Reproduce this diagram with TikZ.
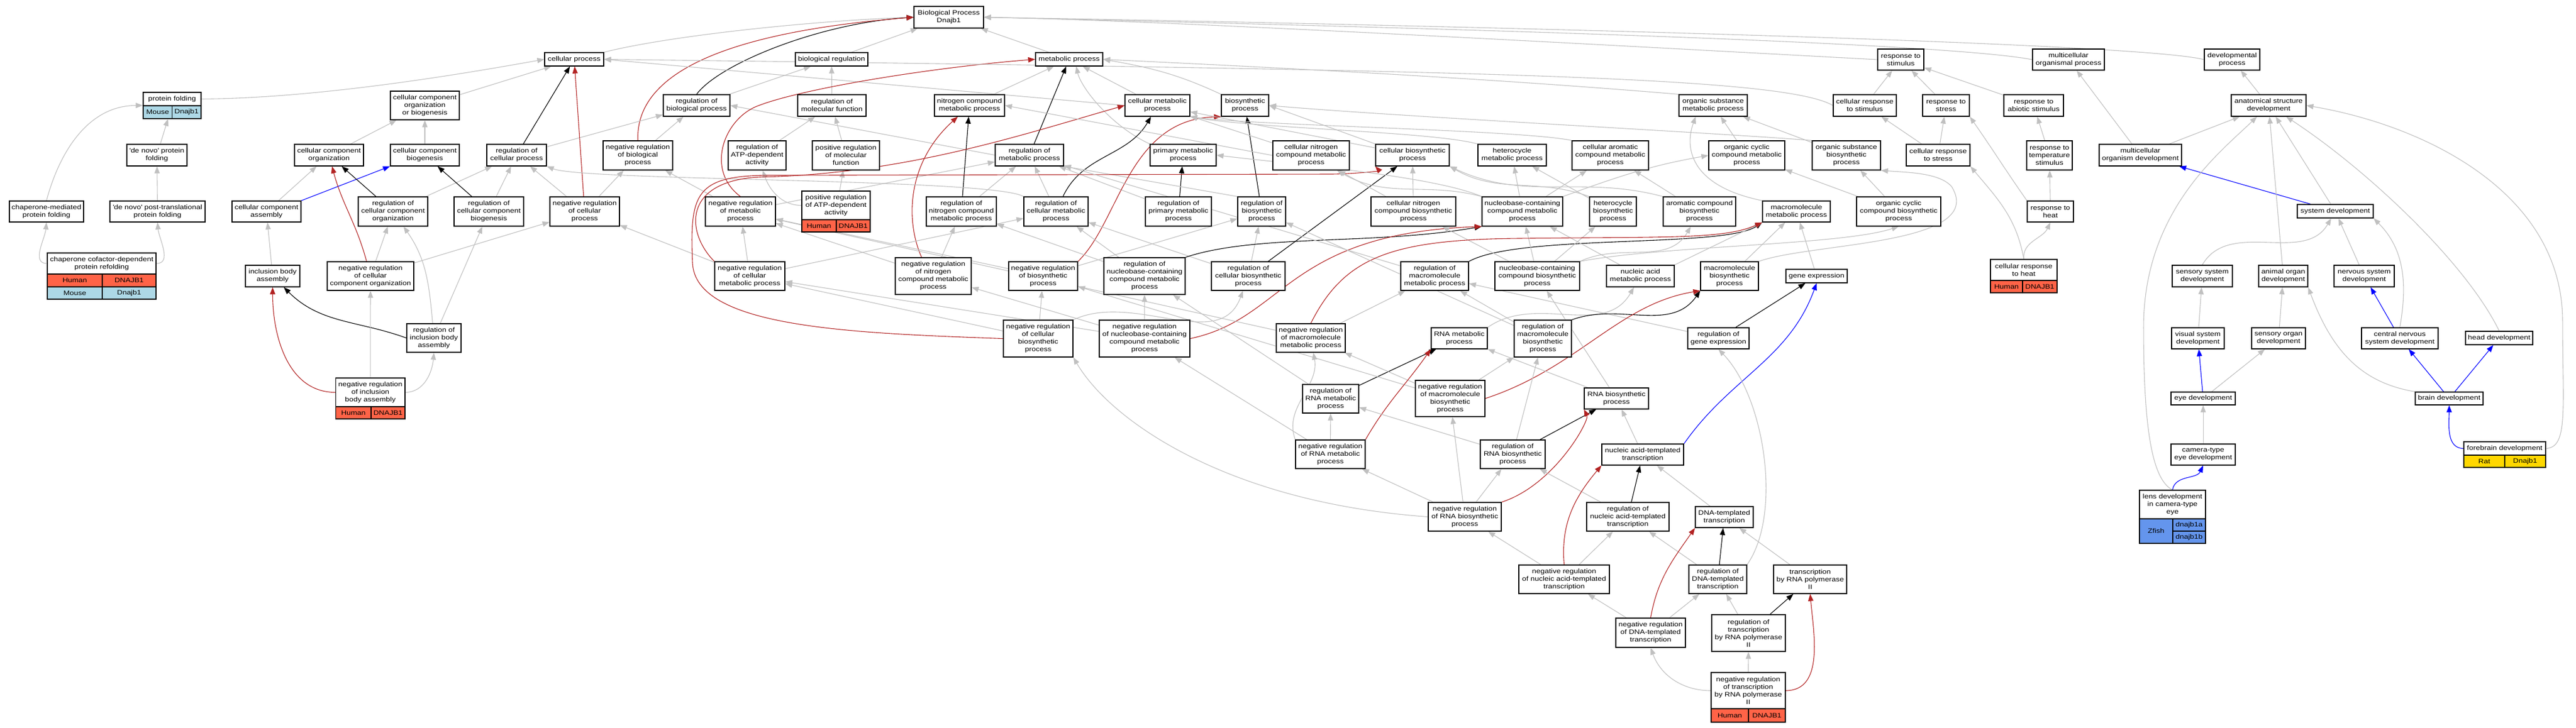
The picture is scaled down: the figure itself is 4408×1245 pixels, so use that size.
\documentclass[tikz,border=0pt]{standalone}
\usepackage{fontspec}
\setmainfont{Liberation Sans}[FakeStretch=1.18]
\usetikzlibrary{arrows.meta,backgrounds}
\definecolor{isagray}{HTML}{C0C0C0}
\definecolor{negred}{HTML}{B22222}
\definecolor{partblue}{HTML}{0000FF}
\definecolor{tomato}{HTML}{FF6347}
\definecolor{lightblue}{HTML}{ADD8E6}
\definecolor{gold}{HTML}{FFD700}
\definecolor{cornflower}{HTML}{6495ED}
\tikzset{
  term/.style={draw=black, fill=white, line width=1.3pt, align=center, inner sep=0pt, font=\fontsize{11}{13}\selectfont},
  rec/.style={draw=black, line width=1.3pt, inner sep=0pt},
  boxwh/.style 2 args={minimum width=#1, minimum height=#2},
  human/.style={term, fill=tomato},
  mouse/.style={term, fill=lightblue},
  rat/.style={term, fill=gold},
  zfish/.style={term, fill=cornflower},
  isa/.style={draw=isagray, line width=1.1pt, -{Triangle[length=12pt,width=9pt]}},
  reg/.style={isa, draw=black},
  negreg/.style={isa, draw=negred},
  partof/.style={isa, draw=partblue}
}
\begin{document}
\begin{tikzpicture}[x=1pt, y=-1pt]
  \useasboundingbox (0,0) rectangle (4408,1245);
  % Nodes, row 1 and 2
  \node[term, boxwh={119}{37}] (root) at (1623.5,29.5) {Biological Process\\Dnajb1};
  \node[term, boxwh={101}{23}] (cp) at (982.5,101.5) {cellular process};
  \node[term, boxwh={124}{23}] (br) at (1423,101.5) {biological regulation};
  \node[term, boxwh={115}{23}] (mp) at (1829.5,101.5) {metabolic process};
  \node[term, boxwh={79}{36}] (rs) at (3252.5,102) {response to\\stimulus};
  \node[term, boxwh={123}{36}] (mop) at (3539.5,102) {multicellular\\organismal process};
  \node[term, boxwh={95}{36}] (dp) at (3819.5,102) {developmental\\process};
  % row 3
  \node[term, boxwh={99}{23}] (pf-t) at (294.5,169.5) {protein folding};
  \node[mouse, boxwh={49.5}{22}] (pf-a) at (269.75,192) {Mouse};
  \node[mouse, boxwh={49.5}{22}] (pf-b) at (319.25,192) {Dnajb1};
  \node[rec, boxwh={99}{45}] (pf) at (294.5,180.5) {};
  \node[term, boxwh={118}{49}] (ccob) at (727,180.5) {cellular component\\organization\\or biogenesis};
  \node[term, boxwh={114}{37}] (rbp) at (1192,180.5) {regulation of\\biological process};
  \node[term, boxwh={117}{37}] (rmf) at (1423.5,180.5) {regulation of\\molecular function};
  \node[term, boxwh={120}{37}] (ncmp) at (1659,180.5) {nitrogen compound\\metabolic process};
  \node[term, boxwh={111}{37}] (cmp) at (1980.5,180.5) {cellular metabolic\\process};
  \node[term, boxwh={81}{37}] (bp) at (2130.5,180.5) {biosynthetic\\process};
  \node[term, boxwh={117}{37}] (osmp) at (2931.5,180.5) {organic substance\\metabolic process};
  \node[term, boxwh={108}{37}] (crs) at (3191,180.5) {cellular response\\to stimulus};
  \node[term, boxwh={80}{37}] (rstr) at (3330,180.5) {response to\\stress};
  \node[term, boxwh={102}{37}] (ras) at (3480,180.5) {response to\\abiotic stimulus};
  \node[term, boxwh={128}{37}] (asd) at (3882,180.5) {anatomical structure\\development};
  % row 4
  \node[term, boxwh={103}{37}] (dnpf) at (268.5,265.5) {\textquotesingle de novo\textquotesingle{} protein\\folding};
  \node[term, boxwh={118}{37}] (cco) at (563,265.5) {cellular component\\organization};
  \node[term, boxwh={118}{37}] (ccb) at (727,265.5) {cellular component\\biogenesis};
  \node[term, boxwh={102}{37}] (rcp) at (884,265.5) {regulation of\\cellular process};
  \node[term, boxwh={119}{50}] (nrbp) at (1091.5,266) {negative regulation\\of biological\\process};
  \node[term, boxwh={99}{50}] (ratp) at (1295.5,266) {regulation of\\ATP-dependent\\activity};
  \node[term, boxwh={115}{50}] (prmf) at (1447.5,266) {positive regulation\\of molecular\\function};
  \node[term, boxwh={117}{37}] (rmp) at (1761.5,265.5) {regulation of\\metabolic process};
  \node[term, boxwh={113}{37}] (pmp) at (2024.5,265.5) {primary metabolic\\process};
  \node[term, boxwh={131}{50}] (cncmp) at (2243.5,266) {cellular nitrogen\\compound metabolic\\process};
  \node[term, boxwh={126}{37}] (cbsp) at (2417,265.5) {cellular biosynthetic\\process};
  \node[term, boxwh={117}{37}] (hmp) at (2587.5,265.5) {heterocycle\\metabolic process};
  \node[term, boxwh={131}{50}] (cacmp) at (2755.5,266) {cellular aromatic\\compound metabolic\\process};
  \node[term, boxwh={130}{50}] (occmp) at (2989,266) {organic cyclic\\compound metabolic\\process};
  \node[term, boxwh={117}{50}] (osbp) at (3159.5,266) {organic substance\\biosynthetic\\process};
  \node[term, boxwh={109}{37}] (crstr) at (3316.5,265.5) {cellular response\\to stress};
  \node[term, boxwh={78}{50}] (rts) at (3507,266) {response to\\temperature\\stimulus};
  \node[term, boxwh={141}{37}] (mod) at (3662.5,265.5) {multicellular\\organism development};
  % row 5
  \node[term, boxwh={127}{36}] (cmpf) at (79.5,362) {chaperone-mediated\\protein folding};
  \node[term, boxwh={163}{36}] (dnpt) at (269.5,362) {\textquotesingle de novo\textquotesingle{} post-translational\\protein folding};
  \node[term, boxwh={118}{36}] (cca) at (456,362) {cellular component\\assembly};
  \node[term, boxwh={119}{50}] (rcco) at (672.5,362) {regulation of\\cellular component\\organization};
  \node[term, boxwh={119}{50}] (rccb) at (836.5,362) {regulation of\\cellular component\\biogenesis};
  \node[term, boxwh={119}{50}] (nrcp) at (1000.5,362) {negative regulation\\of cellular\\process};
  \node[term, boxwh={120}{50}] (nrmp) at (1267,362) {negative regulation\\of metabolic\\process};
  \node[term, boxwh={117}{49}] (pratp-t) at (1430.5,351.5) {positive regulation\\of ATP-dependent\\activity};
  \node[human, boxwh={59}{21}] (pratp-a) at (1401.5,386.5) {Human};
  \node[human, boxwh={58}{21}] (pratp-b) at (1460,386.5) {DNAJB1};
  \node[rec, boxwh={117}{70}] (pratp) at (1430.5,362) {};
  \node[term, boxwh={120}{50}] (rncmp) at (1645,362) {regulation of\\nitrogen compound\\metabolic process};
  \node[term, boxwh={110}{50}] (rcmp) at (1807,362) {regulation of\\cellular metabolic\\process};
  \node[term, boxwh={113}{50}] (rpmp) at (2016.5,362) {regulation of\\primary metabolic\\process};
  \node[term, boxwh={82}{50}] (rbsp) at (2159,362) {regulation of\\biosynthetic\\process};
  \node[term, boxwh={145}{50}] (cncbp) at (2418.5,362) {cellular nitrogen\\compound biosynthetic\\process};
  \node[term, boxwh={138}{50}] (nccmp) at (2605,362) {nucleobase-containing\\compound metabolic\\process};
  \node[term, boxwh={80}{50}] (hbp) at (2760,362) {heterocycle\\biosynthetic\\process};
  \node[term, boxwh={124}{50}] (acbp) at (2908,362) {aromatic compound\\biosynthetic\\process};
  \node[term, boxwh={116}{36}] (mmp) at (3074,362) {macromolecule\\metabolic process};
  \node[term, boxwh={144}{50}] (occbp) at (3249,362) {organic cyclic\\compound biosynthetic\\process};
  \node[term, boxwh={79}{36}] (rh) at (3508.5,362) {response to\\heat};
  \node[term, boxwh={130}{23}] (sd) at (3996,361.5) {system development};
  % row 6
  \node[term, boxwh={186}{36}] (ccdpr-t) at (174,451) {chaperone cofactor-dependent\\protein refolding};
  \node[human, boxwh={94}{22}] (ccdpr-a) at (128,480) {Human};
  \node[human, boxwh={92}{22}] (ccdpr-b) at (221,480) {DNAJB1};
  \node[mouse, boxwh={94}{21}] (ccdpr-c) at (128,501.5) {Mouse};
  \node[mouse, boxwh={92}{21}] (ccdpr-d) at (221,501.5) {Dnajb1};
  \node[rec, boxwh={186}{79}] (ccdpr) at (174,472.5) {};
  \node[term, boxwh={93}{37}] (iba) at (466.5,472.5) {inclusion body\\assembly};
  \node[term, boxwh={148}{49}] (nrcco) at (634,472.5) {negative regulation\\of cellular\\component organization};
  \node[term, boxwh={120}{49}] (nrcmp) at (1283,472.5) {negative regulation\\of cellular\\metabolic process};
  \node[term, boxwh={130}{63}] (nrncmp) at (1597,472.5) {negative regulation\\of nitrogen\\compound metabolic\\process};
  \node[term, boxwh={118}{49}] (nrbsp) at (1785,472.5) {negative regulation\\of biosynthetic\\process};
  \node[term, boxwh={139}{63}] (rnccmp) at (1958.5,472.5) {regulation of\\nucleobase-containing\\compound metabolic\\process};
  \node[term, boxwh={126}{49}] (rcbsp) at (2136,472.5) {regulation of\\cellular biosynthetic\\process};
  \node[term, boxwh={116}{49}] (rmmp) at (2455,472.5) {regulation of\\macromolecule\\metabolic process};
  \node[term, boxwh={145}{49}] (nccbp) at (2630.5,472.5) {nucleobase-containing\\compound biosynthetic\\process};
  \node[term, boxwh={116}{37}] (namp) at (2807,472.5) {nucleic acid\\metabolic process};
  \node[term, boxwh={99}{49}] (mbp) at (2959.5,472.5) {macromolecule\\biosynthetic\\process};
  \node[term, boxwh={105}{23}] (ge) at (3108.5,472.5) {gene expression};
  \node[term, boxwh={114}{36}] (crh-t) at (3463,462) {cellular response\\to heat};
  \node[human, boxwh={55}{21}] (crh-a) at (3433.5,490.5) {Human};
  \node[human, boxwh={59}{21}] (crh-b) at (3490.5,490.5) {DNAJB1};
  \node[rec, boxwh={114}{57}] (crh) at (3463,472.5) {};
  \node[term, boxwh={103}{37}] (ssd) at (3768.5,472.5) {sensory system\\development};
  \node[term, boxwh={84}{37}] (aod) at (3907,472.5) {animal organ\\development};
  \node[term, boxwh={103}{37}] (nsd) at (4045.5,472.5) {nervous system\\development};
  % row 7
  \node[term, boxwh={93}{49}] (riba) at (742.5,578.5) {regulation of\\inclusion body\\assembly};
  \node[term, boxwh={119}{63}] (nrcbsp) at (1776.5,579.5) {negative regulation\\of cellular\\biosynthetic\\process};
  \node[term, boxwh={155}{63}] (nrnccmp) at (1958.5,579.5) {negative regulation\\of nucleobase-containing\\compound metabolic\\process};
  \node[term, boxwh={118}{49}] (nrmmp) at (2243,578.5) {negative regulation\\of macromolecule\\metabolic process};
  \node[term, boxwh={96}{36}] (rnamp) at (2497,579) {RNA metabolic\\process};
  \node[term, boxwh={98}{63}] (rmbp) at (2640,579.5) {regulation of\\macromolecule\\biosynthetic\\process};
  \node[term, boxwh={105}{36}] (rge) at (2940.5,579) {regulation of\\gene expression};
  \node[term, boxwh={90}{36}] (vsd) at (3761,579) {visual system\\development};
  \node[term, boxwh={92}{36}] (sod) at (3899,579) {sensory organ\\development};
  \node[term, boxwh={131}{36}] (cnsd) at (4106.5,579) {central nervous\\system development};
  \node[term, boxwh={115}{23}] (hd) at (4276.5,578.5) {head development};
  % row 8
  \node[term, boxwh={118.5}{49}] (nriba-t) at (633.75,671.5) {negative regulation\\of inclusion\\body assembly};
  \node[human, boxwh={60.5}{21}] (nriba-a) at (604.75,706.5) {Human};
  \node[human, boxwh={58}{21}] (nriba-b) at (664,706.5) {DNAJB1};
  \node[rec, boxwh={118.5}{70}] (nriba) at (633.75,682) {};
  \node[term, boxwh={96}{49}] (rrmp) at (2277,682.5) {regulation of\\RNA metabolic\\process};
  \node[term, boxwh={119}{62}] (nrmbp) at (2481.5,682) {negative regulation\\of macromolecule\\biosynthetic\\process};
  \node[term, boxwh={110}{36}] (rnabp) at (2766,682) {RNA biosynthetic\\process};
  \node[term, boxwh={110}{22}] (ed) at (3770,682) {eye development};
  \node[term, boxwh={116}{22}] (bd) at (4191,682) {brain development};
  % row 9
  \node[term, boxwh={119}{49}] (nrrmp) at (2276.5,777.5) {negative regulation\\of RNA metabolic\\process};
  \node[term, boxwh={111}{49}] (rrbp) at (2588.5,777.5) {regulation of\\RNA biosynthetic\\process};
  \node[term, boxwh={140}{36}] (natt) at (2811,778) {nucleic acid-templated\\transcription};
  \node[term, boxwh={110}{36}] (cted) at (3770,778) {camera-type\\eye development};
  \node[term, boxwh={140}{23}] (fd-t) at (4286,767.5) {forebrain development};
  \node[rat, boxwh={70}{21}] (fd-a) at (4251,789.5) {Rat};
  \node[rat, boxwh={70}{21}] (fd-b) at (4321,789.5) {Dnajb1};
  \node[rec, boxwh={140}{44}] (fd) at (4286,778) {};
  % row 10
  \node[term, boxwh={125}{49}] (nrrbp) at (2506.5,884.5) {negative regulation\\of RNA biosynthetic\\process};
  \node[term, boxwh={141}{49}] (rnatt) at (2785.5,884.5) {regulation of\\nucleic acid-templated\\transcription};
  \node[term, boxwh={99}{36}] (dtt) at (2950.5,885) {DNA-templated\\transcription};
  \node[term, boxwh={113}{49}] (ldcte-t) at (3717.5,863.5) {lens development\\in camera-type\\eye};
  \node[zfish, boxwh={57}{42}] (ldcte-a) at (3689.5,909) {Zfish};
  \node[zfish, boxwh={56}{21}] (ldcte-b) at (3746,898.5) {dnajb1a};
  \node[zfish, boxwh={56}{21}] (ldcte-c) at (3746,919.5) {dnajb1b};
  \node[rec, boxwh={113}{91}] (ldcte) at (3717.5,884.5) {};
  % row 11 to 13
  \node[term, boxwh={155}{49}] (nrnatt) at (2676.5,991.5) {negative regulation\\of nucleic acid-templated\\transcription};
  \node[term, boxwh={99}{49}] (rdtt) at (2939.5,991.5) {regulation of\\DNA-templated\\transcription};
  \node[term, boxwh={125}{49}] (trp) at (3097.5,991.5) {transcription\\by RNA polymerase\\II};
  \node[term, boxwh={119}{50}] (nrdtt) at (2824.5,1083) {negative regulation\\of DNA-templated\\transcription};
  \node[term, boxwh={126}{63}] (rtrp) at (2992,1083.5) {regulation of\\transcription\\by RNA polymerase\\II};
  \node[term, boxwh={127}{62}] (nrtrp-t) at (2991.5,1182) {negative regulation\\of transcription\\by RNA polymerase\\II};
  \node[human, boxwh={64}{23}] (nrtrp-a) at (2960,1224.5) {Human};
  \node[human, boxwh={63}{23}] (nrtrp-b) at (3023.5,1224.5) {DNAJB1};
  \node[rec, boxwh={127}{85}] (nrtrp) at (2991.5,1193.5) {};

  \begin{scope}[on background layer]
  \fill[white] (0,0) rectangle (4408,1245);
  % Edges into the root
  \draw[isa] (cp.north east) .. controls (1150,60) and (1400,35) .. (root.west);
  \draw[reg] (rbp.north) .. controls (1230,110) and (1400,40) .. (root.west);
  \draw[negreg] (nrbp.north) .. controls (1088,150) and (1180,60) .. (root.west);
  \draw[isa] (br) -- (root);
  \draw[isa] (mp) -- (root);
  \draw[isa] (rs.west) .. controls (2800,80) and (2000,35) .. (root.east);
  \draw[isa] (mop.west) .. controls (3300,68) and (2200,42) .. (root.east);
  \draw[isa] (dp.west) .. controls (3650,70) and (2300,40) .. (root.east);
  % Protein folding
  \draw[isa] (dnpf) -- (pf);
  \draw[isa] (cmpf.north) to[out=75,in=180] (pf.west);
  \draw[isa] (dnpt) -- (dnpf);
  \draw[isa] (ccdpr-t.west) to[out=180,in=-95] (cmpf.south);
  \draw[isa] (ccdpr-t.east) to[out=0,in=-85] (dnpt.south);
  \draw[isa] (pf-t.east) .. controls (550,168) and (800,125) .. (cp.west);
  % Cellular component
  \draw[isa] (ccob) -- (cp);
  \draw[isa] (cco) -- (ccob);
  \draw[isa] (ccb) -- (ccob);
  \draw[isa] (cca) -- (cco);
  \draw[partof] (cca.north east) -- (ccb.south west);
  \draw[isa] (iba) -- (cca);
  \draw[reg] (rcco) -- (cco);
  \draw[isa] (rcco) -- (rcp);
  \draw[reg] (rccb) -- (ccb);
  \draw[isa] (rccb) -- (rcp);
  \draw[reg] (rcp) -- (cp);
  \draw[isa] (rcp) -- (rbp);
  \draw[negreg] (nrcp) -- (cp);
  \draw[isa] (nrcp) -- (rcp);
  \draw[isa] (nrcp) -- (nrbp);
  \draw[isa] (nrbp) -- (rbp);
  \draw[isa] (rbp) -- (br);
  \draw[negreg] (nrcco) to[out=105,in=-75] (cco);
  \draw[isa] (nrcco) -- (rcco);
  \draw[isa] (nrcco) -- (nrcp);
  \draw[reg] (riba.west) to[out=160,in=-45] (iba);
  \draw[isa] (riba) to[out=95,in=-55] (rcco);
  \draw[isa] (riba) -- (rccb);
  \draw[negreg] (nriba-t.west) to[out=180,in=-90] (iba.south);
  \draw[isa] (nriba-t.east) to[out=0,in=-95] (riba.south);
  \draw[isa] (nriba) -- (nrcco);
  % Molecular function
  \draw[isa] (rmf) -- (br);
  \draw[isa] (ratp) -- (rmf);
  \draw[isa] (prmf) -- (rmf);
  \draw[isa] (pratp-t.west) to[out=180,in=-70] (ratp);
  \draw[isa] (pratp) -- (prmf);
  % Metabolic process
  \draw[isa] (ncmp) -- (mp);
  \draw[isa] (cmp) -- (mp);
  \draw[isa] (cmp.west) -- (cp.east);
  \draw[isa] (bp.north west) to[out=155,in=-10] (mp.east);
  \draw[isa] (pmp.north west) .. controls (1900,215) and (1850,150) .. ([xshift=12pt]mp.south);
  \draw[isa] (osmp.north west) .. controls (2500,130) and (2100,112) .. (mp.east);
  \draw[reg] (rmp) -- (mp);
  \draw[isa] (rmp.west) -- (rbp.east);
  \draw[negreg] (nrmp.north) .. controls (1205,290) and (1240,200) .. (1300,180) .. controls (1380,150) and (1600,115) .. (mp.west);
  \draw[isa] (nrmp) -- (rmp);
  \draw[isa] (nrmp) -- (nrbp);
  \draw[reg] (rncmp) -- (ncmp);
  \draw[isa] (rncmp) -- (rmp);
  \draw[negreg] ([xshift=-20pt]nrncmp.north) .. controls (1550,380) and (1550,280) .. ([xshift=-20pt]ncmp.south);
  \draw[isa] (nrncmp) -- (rncmp);
  \draw[isa] (nrncmp) -- (nrmp);
  \draw[reg] (rcmp) to[out=65,in=-120] (cmp);
  \draw[isa] (rcmp) -- (rmp);
  \draw[isa] (rcmp.north west) .. controls (1700,305) and (1000,310) .. (rcp.south east);
  \draw[reg] (rpmp) -- (pmp);
  \draw[isa] (rpmp) -- (rmp);
  \draw[reg] (rbsp) -- (bp);
  \draw[isa] (rbsp.north west) -- (rmp.south east);
  \draw[negreg] (nrcmp.north west) .. controls (1175,400) and (1165,310) .. (1300,303) .. controls (1550,298) and (1750,230) .. (cmp.west);
  \draw[isa] (nrcmp) -- (nrmp);
  \draw[isa] (nrcmp) -- (rcmp);
  \draw[isa] (nrcmp) -- (nrcp);
  \draw[negreg] (nrbsp.north east) .. controls (1915,380) and (1930,205) .. (bp.south west);
  \draw[isa] (nrbsp) -- (rbsp);
  \draw[isa] (nrbsp) -- (nrmp);
  \draw[reg] (rcbsp) -- (cbsp);
  \draw[isa] (rcbsp) -- (rbsp);
  \draw[isa] (rcbsp) -- (rcmp);
  \draw[negreg] (nrcbsp.west) .. controls (1450,570) and (1190,560) .. (1185,450) .. controls (1180,330) and (1190,300) .. (1320,300) -- (2280,298) .. controls (2330,297) and (2360,292) .. (cbsp.south west);
  \draw[isa] (nrcbsp) -- (nrbsp);
  \draw[isa] (nrcbsp.north east) to[out=25,in=-110] (rcbsp);
  \draw[isa] (nrcbsp) -- (nrcmp);
  \draw[isa] (rnccmp) -- (rncmp);
  \draw[isa] (rnccmp) -- (rcmp);
  \draw[reg] (rnccmp.north east) .. controls (2150,400) and (2350,420) .. (nccmp.south west);
  \draw[negreg] (nrnccmp.east) .. controls (2200,545) and (2200,400) .. (nccmp.south west);
  \draw[isa] (nrnccmp) -- (rnccmp);
  \draw[isa] (nrnccmp) -- (nrncmp);
  \draw[isa] (nrnccmp) -- (nrcmp);
  % Compound metabolism
  \draw[isa] (cncmp.west) -- (ncmp.east);
  \draw[isa] (cncmp) -- (cmp);
  \draw[isa] (cbsp.north west) -- (bp.east);
  \draw[isa] (cbsp) -- (cmp);
  \draw[isa] (hmp.north west) .. controls (2450,225) and (2150,220) .. (cmp.south east);
  \draw[isa] (cacmp.north west) .. controls (2600,222) and (2150,215) .. (cmp.south east);
  \draw[isa] (occmp) -- (osmp);
  \draw[isa] (osbp) -- (osmp);
  \draw[isa] (osbp.north west) .. controls (2900,225) and (2400,200) .. (bp.east);
  \draw[isa] (mmp.north west) .. controls (2900,320) and (2880,260) .. ([xshift=-30pt]osmp.south);
  \draw[isa] (cncbp) -- (cncmp);
  \draw[isa] (cncbp) -- (cbsp);
  \draw[isa] (nccmp) -- (hmp);
  \draw[isa] (nccmp) -- (cacmp);
  \draw[isa] (nccmp.north west) to[out=165,in=-30] (cncmp);
  \draw[isa] (nccmp.north east) to[out=20,in=190] (occmp.west);
  \draw[isa] (nccmp.north west) .. controls (2450,300) and (2200,280) .. (pmp.east);
  \draw[isa] (hbp) -- (hmp);
  \draw[isa] (hbp.north west) to[out=160,in=-30] (cbsp.south east);
  \draw[isa] (acbp) -- (cacmp);
  \draw[isa] (acbp.north west) to[out=165,in=-25] (cbsp.south east);
  \draw[isa] (occbp) -- (occmp);
  \draw[isa] (occbp) -- (osbp);
  \draw[isa] (mbp) -- (mmp);
  \draw[isa] (mbp.north east) .. controls (3100,415) and (3400,420) .. (3340,320) .. controls (3320,295) and (3260,295) .. (osbp.south east);
  \draw[isa] (ge) -- (mmp);
  \draw[reg] (rge) -- (ge);
  \draw[isa] (rge) -- (rmmp);
  \draw[partof] (natt.north east) to[out=55,in=-110] (ge.south);
  \draw[reg] (rmmp.north east) .. controls (2600,400) and (2950,425) .. (mmp.south west);
  \draw[isa] (rmmp) -- (rmp);
  \draw[isa] (nccbp) -- (nccmp);
  \draw[isa] (nccbp) -- (hbp);
  \draw[isa] (nccbp.north east) to[out=25,in=-120] (acbp);
  \draw[isa] (nccbp) -- (cncbp);
  \draw[isa] (nccbp.north east) .. controls (2850,420) and (3150,420) .. (occbp.south);
  \draw[isa] (namp) -- (nccmp);
  \draw[isa] (namp.north east) -- (mmp.south west);
  \draw[negreg] (nrmmp.north) .. controls (2300,440) and (2380,410) .. (2600,408) .. controls (2850,405) and (2950,410) .. (mmp.south west);
  \draw[isa] (nrmmp) -- (rmmp);
  \draw[isa] (nrmmp) -- (nrmp);
  \draw[isa] (rnamp.north east) to[out=35,in=-120] (namp);
  \draw[isa] (rmbp) -- (rmmp);
  \draw[reg] (rmbp.north east) to[out=20,in=-125] (mbp.south west);
  \draw[isa] (rmbp) -- (rbsp);
  % RNA and transcription
  \draw[reg] (rrmp) -- (rnamp);
  \draw[isa] (rrmp) -- (rnccmp);
  \draw[negreg] (nrmbp.east) .. controls (2700,630) and (2770,520) .. (mbp.south west);
  \draw[isa] (nrmbp) -- (rmbp);
  \draw[isa] (nrmbp) -- (nrmmp);
  \draw[isa] (nrmbp) -- (nrbsp);
  \draw[isa] (rnabp) -- (rnamp);
  \draw[isa] (rnabp) -- (nccbp);
  \draw[isa] (nrrmp) -- (rrmp);
  \draw[negreg] (nrrmp.north east) to[out=60,in=-125] (rnamp.south west);
  \draw[isa] (nrrmp) -- (nrnccmp);
  \draw[isa] (nrrmp.north west) to[out=110,in=-80] (nrmmp);
  \draw[isa] (rrbp) -- (rrmp);
  \draw[reg] (rrbp) -- (rnabp);
  \draw[isa] (rrbp) -- (rmbp);
  \draw[isa] (natt) -- (rnabp);
  \draw[isa] (nrrbp) -- (nrrmp);
  \draw[isa] (nrrbp) -- (rrbp);
  \draw[negreg] (nrrbp.north east) .. controls (2660,830) and (2720,720) .. (rnabp.south west);
  \draw[isa] (nrrbp) -- (nrmbp);
  \draw[isa] (nrrbp.west) .. controls (2100,860) and (1900,720) .. (nrcbsp.south east);
  \draw[reg] (rnatt) -- (natt);
  \draw[isa] (rnatt) -- (rrbp);
  \draw[isa] (dtt) -- (natt);
  \draw[negreg] (nrnatt.north) to[out=95,in=-130] (natt.south west);
  \draw[isa] (nrnatt) -- (rnatt);
  \draw[isa] (nrnatt) -- (nrrbp);
  \draw[reg] (rdtt) -- (dtt);
  \draw[isa] (rdtt) -- (rnatt);
  \draw[isa] (rdtt.north east) .. controls (3050,880) and (3020,680) .. (rge.south);
  \draw[isa] (trp) -- (dtt);
  \draw[negreg] (nrdtt.north) to[out=80,in=-125] (dtt.south west);
  \draw[isa] (nrdtt) -- (rdtt);
  \draw[isa] (nrdtt) -- (nrnatt);
  \draw[reg] (rtrp) -- (trp);
  \draw[isa] (rtrp) -- (rdtt);
  \draw[isa] (nrtrp) -- (rtrp);
  \draw[isa] (nrtrp-t.west) to[out=180,in=-70] (nrdtt.south);
  \draw[negreg] (nrtrp-t.east) to[out=0,in=-85] (trp.south);
  % Stimulus
  \draw[isa] (crs.west) .. controls (3050,130) and (2500,120) .. (cp.east);
  \draw[isa] (crs) -- (rs);
  \draw[isa] (rstr) -- (rs);
  \draw[isa] (ras) -- (rs);
  \draw[isa] (crstr) -- (crs);
  \draw[isa] (crstr) -- (rstr);
  \draw[isa] (rts) -- (ras);
  \draw[isa] (rh) -- (rts);
  \draw[isa] (rh.north west) to[out=125,in=-55] (rstr.south east);
  \draw[isa] (crh-t.north) to[out=95,in=-115] (rh.south);
  \draw[isa] (crh-t.north) to[out=100,in=-50] (crstr.south east);
  % Development
  \draw[isa] (asd) -- (dp);
  \draw[isa] (mod) -- (mop);
  \draw[isa] (mod) -- (asd);
  \draw[partof] (sd) -- (mod);
  \draw[isa] (sd) -- (asd);
  \draw[isa] (ssd.north) to[out=60,in=-120] (sd);
  \draw[isa] (aod) -- (asd);
  \draw[isa] (nsd) -- (sd);
  \draw[isa] (vsd) -- (ssd);
  \draw[isa] (sod) -- (aod);
  \draw[partof] (cnsd) -- (nsd);
  \draw[isa] (cnsd.north) to[out=80,in=-45] (sd.south east);
  \draw[isa] (hd.north) .. controls (4220,450) and (4050,290) .. ([xshift=30pt]asd.south);
  \draw[partof] (ed) -- (vsd);
  \draw[isa] (ed) -- (sod);
  \draw[partof] (bd) -- (cnsd);
  \draw[partof] (bd) -- (hd);
  \draw[isa] (bd.north west) .. controls (4040,655) and (3990,600) .. (aod.south east);
  \draw[isa] (cted) -- (ed);
  \draw[partof] (fd-t.west) to[out=180,in=-90] (bd.south);
  \draw[isa] (fd-t.east) .. controls (4395,766) and (4385,700) .. (4385,550) .. controls (4385,330) and (4150,215) .. (asd.east);
  \draw[partof] (ldcte.north) to[out=80,in=-115] (cted.south);
  \draw[isa] (ldcte.north) .. controls (3680,820) and (3668,720) .. (3668,560) .. controls (3668,360) and (3800,260) .. ([xshift=-20pt]asd.south);
  \end{scope}
\end{tikzpicture}
\end{document}
